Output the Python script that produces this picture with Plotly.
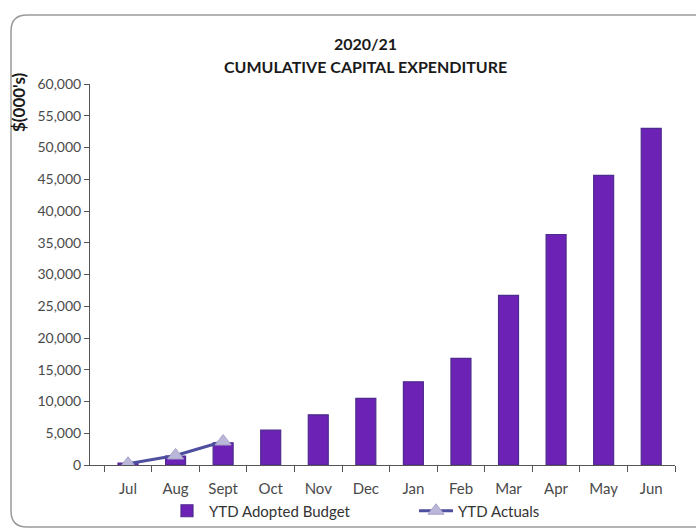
import plotly.graph_objects as go

# Monthly cumulative capital expenditure, $'000
months = ["Jul", "Aug", "Sept", "Oct", "Nov", "Dec", "Jan", "Feb", "Mar", "Apr", "May", "Jun"]
ytd_budget = [300, 1400, 3500, 5500, 7900, 10500, 13100, 16800, 26700, 36300, 45600, 53000]
actual_months = ["Jul", "Aug", "Sept"]
ytd_actuals = [200, 1500, 3700]

y_ticks = list(range(0, 60001, 5000))

W, H = 696, 529
ML, MR, MT, MB = 90, 21, 84, 64
PW, PH = W - ML - MR, H - MT - MB


def px(x):
    return (x - ML) / PW


def py(y):
    return (H - MB - y) / PH


font_family = "Lato, 'Open Sans', sans-serif"
tick_color = "#4a4a4a"

fig = go.Figure()

fig.add_trace(go.Bar(
    x=months, y=ytd_budget, name="YTD Adopted Budget",
    marker=dict(color="#6c22b4", line=dict(color="#4e2b8e", width=1.2)),
))

fig.add_trace(go.Scatter(
    x=actual_months, y=ytd_actuals, name="YTD Actuals", mode="lines+markers",
    line=dict(color="#4f4fa0", width=3),
    marker=dict(symbol="triangle-up", size=14, color="#bab7d8",
                line=dict(color="#a7a4c9", width=1)),
))

# rounded chart frame
r = 16
x0, y0, x1, y1 = 11, 15, 720, 527
path = (
    f"M {px(x0)},{py(y0 + r)} "
    f"Q {px(x0)},{py(y0)} {px(x0 + r)},{py(y0)} "
    f"L {px(x1 - r)},{py(y0)} "
    f"Q {px(x1)},{py(y0)} {px(x1)},{py(y0 + r)} "
    f"L {px(x1)},{py(y1 - r)} "
    f"Q {px(x1)},{py(y1)} {px(x1 - r)},{py(y1)} "
    f"L {px(x0 + r)},{py(y1)} "
    f"Q {px(x0)},{py(y1)} {px(x0)},{py(y1 - r)} Z"
)
fig.add_shape(type="path", path=path, xref="paper", yref="paper",
              line=dict(color="#9a9a9a", width=1.5), layer="below")

fig.add_annotation(
    x=px(365), y=py(43), xref="paper", yref="paper", showarrow=False,
    xanchor="center", yanchor="middle",
    text="<b>2020/21</b>", font=dict(family=font_family, size=16, color="#1a1a1a"),
)
fig.add_annotation(
    x=px(365), y=py(66), xref="paper", yref="paper", showarrow=False,
    xanchor="center", yanchor="middle",
    text="<b>CUMULATIVE CAPITAL EXPENDITURE</b>",
    font=dict(family=font_family, size=16, color="#1a1a1a"),
)
fig.add_annotation(
    x=px(18), y=py(102), xref="paper", yref="paper", showarrow=False,
    xanchor="center", yanchor="middle",
    text="<b>$(000's)</b>", textangle=-90,
    font=dict(family=font_family, size=17, color="#1a1a1a"),
)

fig.update_layout(
    width=W, height=H,
    margin=dict(l=ML, r=MR, t=MT, b=MB, autoexpand=False),
    paper_bgcolor="white", plot_bgcolor="white",
    bargap=0.58,
    showlegend=True,
    legend=dict(orientation="h", xref="container", yref="container",
                x=165 / W, xanchor="left", y=(H - 511) / H, yanchor="middle",
                font=dict(family=font_family, size=15, color="#333333"),
                itemwidth=34, entrywidth=200, tracegroupgap=0, traceorder="normal",
                bgcolor="rgba(0,0,0,0)"),
    xaxis=dict(
        type="category", showgrid=False, showline=True, linecolor="#555555", linewidth=1,
        ticks="outside", ticklen=6, tickcolor="#555555", tickson="boundaries",
        ticklabelstandoff=10,
        tickfont=dict(family=font_family, size=15, color=tick_color),
    ),
    yaxis=dict(
        range=[0, 60000], tickvals=y_ticks, tickformat=",d", showgrid=False,
        showline=True, linecolor="#555555", linewidth=1,
        ticks="outside", ticklen=5, tickcolor="#555555",
        tickfont=dict(family=font_family, size=14, color=tick_color),
        zeroline=False,
    ),
)

fig.write_html("out.html")
